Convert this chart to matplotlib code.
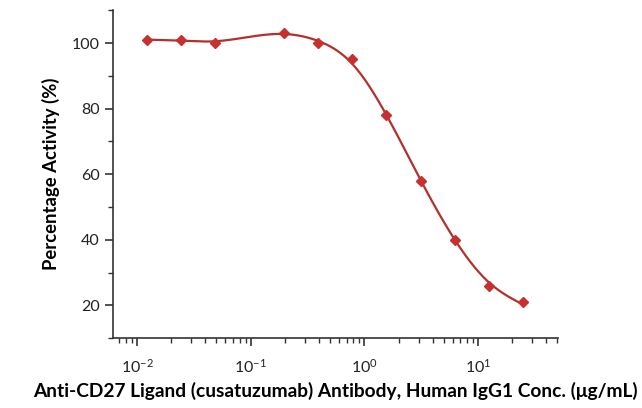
import numpy as np
import matplotlib
matplotlib.use("Agg")
import matplotlib.pyplot as plt
from matplotlib.ticker import LogLocator, NullFormatter, MultipleLocator

conc = [0.0122, 0.0244, 0.0488, 0.1953, 0.3906, 0.7813, 1.5625, 3.125, 6.25, 12.5, 25.0]
activity = [101.0, 101.0, 100.0, 103.0, 100.0, 95.0, 78.0, 58.0, 40.0, 26.0, 21.0]
yticks = [20, 40, 60, 80, 100]

plt.rcParams['font.family'] = ['Lato', 'DejaVu Sans']
plt.rcParams['mathtext.fontset'] = 'custom'
plt.rcParams['mathtext.rm'] = 'Lato'
plt.rcParams['mathtext.it'] = 'Lato:italic'
plt.rcParams['mathtext.bf'] = 'Lato:bold'


def smoothing_curve(x, y, n=600, p=2.5e-3):
    """Penalised (smoothing-spline-like) fit on a fine grid in log-x."""
    x = np.asarray(x, float); y = np.asarray(y, float)
    g = np.linspace(x[0], x[-1], n)
    h = g[1] - g[0]
    B = np.zeros((len(x), n))
    for k, xv in enumerate(x):
        j = min(int((xv - g[0]) / h), n - 2)
        t = (xv - g[j]) / h
        B[k, j] = 1 - t
        B[k, j + 1] = t
    D = np.diff(np.eye(n), 2, axis=0)
    lam = p / h ** 3
    f = np.linalg.solve(B.T @ B + lam * D.T @ D, B.T @ y)
    return g, f


fig = plt.figure(figsize=(6.42, 4.08), dpi=100)
ax = fig.add_axes([0.176, 0.171, 0.693, 0.804])

lx = np.log10(conc)
xs, ys = smoothing_curve(lx, activity)
ax.plot(10 ** xs, ys, color='#b3302c', lw=1.6, zorder=2)
ax.plot(conc, activity, linestyle='none', marker='D', ms=5.5, color='#c8302f',
        mec='#c8302f', zorder=3)

ax.set_xscale('log')
ax.set_xlim(0.00614, 50.5)
ax.set_ylim(10, 110)
ax.set_yticks(yticks)
ax.yaxis.set_minor_locator(MultipleLocator(10))
ax.xaxis.set_major_locator(LogLocator(base=10, numticks=10))
ax.xaxis.set_minor_locator(LogLocator(base=10, subs=np.arange(2, 10), numticks=20))
ax.xaxis.set_minor_formatter(NullFormatter())

for s in ['top', 'right']:
    ax.spines[s].set_visible(False)
for s in ['left', 'bottom']:
    ax.spines[s].set_color('#333333')
    ax.spines[s].set_linewidth(1.2)

ax.tick_params(axis='both', which='major', direction='out', length=6, width=1.2,
               color='#333333', labelsize=11.5, labelcolor='#222222')
ax.tick_params(axis='both', which='minor', direction='out', length=3.5, width=1.0,
               color='#333333')
ax.tick_params(axis='x', which='major', pad=8)

ax.set_ylabel('Percentage Activity (%)', fontsize=13.3, fontweight='bold')
ax.yaxis.set_label_coords(-0.12, 0.5)
ax.set_xlabel('Anti-CD27 Ligand (cusatuzumab) Antibody, Human IgG1 Conc. (μg/mL)',
              fontsize=13.8, fontweight='bold')
ax.xaxis.set_label_coords(0.499, -0.134)

fig.savefig('out.png', dpi=100)
